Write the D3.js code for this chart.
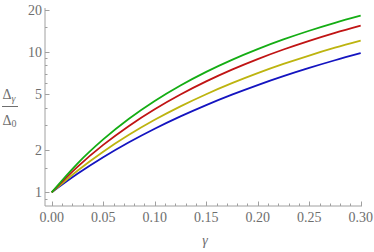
<!DOCTYPE html>
<html>
<head>
<meta charset="utf-8">
<script src="https://cdn.jsdelivr.net/npm/d3@7"></script>
<style>
body { margin: 0; background: #fff; }
</style>
</head>
<body>
<div class="Chart"></div>
<script>
var gammas = [0, 0.025, 0.05, 0.075, 0.1, 0.125, 0.15, 0.175, 0.2, 0.225, 0.25, 0.275, 0.3];
var blueValues   = [1, 1.353, 1.775, 2.269, 2.834, 3.470, 4.178, 4.956, 5.800, 6.709, 7.676, 8.705, 9.784];
var yellowValues = [1, 1.425, 1.945, 2.564, 3.280, 4.088, 4.989, 5.977, 7.046, 8.192, 9.406, 10.69, 12.02];
var redValues    = [1, 1.518, 2.174, 2.968, 3.900, 4.966, 6.155, 7.463, 8.873, 10.38, 11.97, 13.65, 15.38];
var greenValues  = [1, 1.603, 2.380, 3.340, 4.470, 5.760, 7.200, 8.770, 10.45, 12.24, 14.12, 16.07, 18.07];
var seriesColors = ["#1414c0", "#bdb40f", "#c01414", "#14ad14"];

var xMajor = [0, 0.05, 0.1, 0.15, 0.2, 0.25, 0.3];
var xLabels = ["0.00", "0.05", "0.10", "0.15", "0.20", "0.25", "0.30"];
var yMajor = [1, 2, 5, 10, 20];
var yMinor = [0.9, 1.5, 3, 4, 6, 7, 8, 9, 15];

var width = 374, height = 252;
var fontFamily = "'Liberation Serif'";
var textColor = "#6e6e6e";

var svg = d3.select('.Chart').append('svg')
	.attr('width', width)
	.attr('height', height);

var x = d3.scaleLinear().domain([0, 0.3]).range([51.7, 360.7]);
var y = d3.scaleLog().domain([1, 20]).range([192.3, 9.5]);

var axisColor = "#a0a0a0";
var axisX = 45, axisY = 206;

// axes lines
svg.append("line")
	.attr("x1", axisX).attr("x2", 362)
	.attr("y1", axisY).attr("y2", axisY)
	.style("stroke", axisColor);
svg.append("line")
	.attr("x1", axisX).attr("x2", axisX)
	.attr("y1", axisY).attr("y2", 8)
	.style("stroke", axisColor);

// x ticks: minor every 0.01
var xMinor = d3.range(0, 31).map(function(i){ return i / 100; });
svg.selectAll(".xtick")
	.data(xMinor)
	.enter().append("line")
	.attr("x1", function(d){ return Math.round(x(d)) + 0.5; })
	.attr("x2", function(d){ return Math.round(x(d)) + 0.5; })
	.attr("y1", axisY)
	.attr("y2", function(d, i){ return i % 5 === 0 ? axisY - 4.5 : axisY - 2.5; })
	.style("stroke", axisColor);

svg.selectAll(".xlabel")
	.data(xMajor)
	.enter().append("text")
	.attr("x", function(d){ return x(d); })
	.attr("y", 222)
	.attr("text-anchor", "middle")
	.style("font-family", fontFamily)
	.style("fill", textColor)
	.style("font-size", "14px")
	.text(function(d, i){ return xLabels[i]; });

// y ticks
svg.selectAll(".ymajor")
	.data(yMajor)
	.enter().append("line")
	.attr("x1", axisX).attr("x2", axisX + 4.5)
	.attr("y1", function(d){ return Math.round(y(d)) + 0.5; })
	.attr("y2", function(d){ return Math.round(y(d)) + 0.5; })
	.style("stroke", axisColor);
svg.selectAll(".yminor")
	.data(yMinor)
	.enter().append("line")
	.attr("x1", axisX).attr("x2", axisX + 2.5)
	.attr("y1", function(d){ return Math.round(y(d)) + 0.5; })
	.attr("y2", function(d){ return Math.round(y(d)) + 0.5; })
	.style("stroke", axisColor);

svg.selectAll(".ylabel")
	.data(yMajor)
	.enter().append("text")
	.attr("x", 42)
	.attr("y", function(d){ return y(d) + 5; })
	.attr("text-anchor", "end")
	.style("font-family", fontFamily)
	.style("fill", textColor)
	.style("font-size", "14px")
	.text(function(d){ return d; });

// curves
var seriesList = [blueValues, yellowValues, redValues, greenValues];
var line = d3.line()
	.x(function(d, i){ return x(gammas[i]); })
	.y(function(d){ return y(d); })
	.curve(d3.curveMonotoneX);

svg.selectAll(".curve")
	.data(seriesList)
	.enter().append("path")
	.attr("d", function(d){ return line(d); })
	.style("fill", "none")
	.style("stroke", function(d, i){ return seriesColors[i]; })
	.style("stroke-width", 1.8);

// axis labels
svg.append("text")
	.attr("x", 205)
	.attr("y", 244.5)
	.attr("text-anchor", "middle")
	.style("font-family", fontFamily)
	.style("fill", textColor)
	.style("font-size", "14px")
	.style("font-style", "italic")
	.text("γ");

var num = svg.append("text")
	.attr("x", 2.5)
	.attr("y", 99)
	.style("font-family", fontFamily)
	.style("fill", textColor)
	.style("font-size", "14px");
num.append("tspan").text("Δ");
num.append("tspan").attr("dy", 3).style("font-size", "10px").style("font-style", "italic").text("γ");

svg.append("line")
	.attr("x1", 2).attr("x2", 18)
	.attr("y1", 106.5).attr("y2", 106.5)
	.style("stroke", textColor);

var den = svg.append("text")
	.attr("x", 2.5)
	.attr("y", 125)
	.style("font-family", fontFamily)
	.style("fill", textColor)
	.style("font-size", "14px");
den.append("tspan").text("Δ");
den.append("tspan").attr("dy", 2).style("font-size", "10px").text("0");
</script>
</body>
</html>
